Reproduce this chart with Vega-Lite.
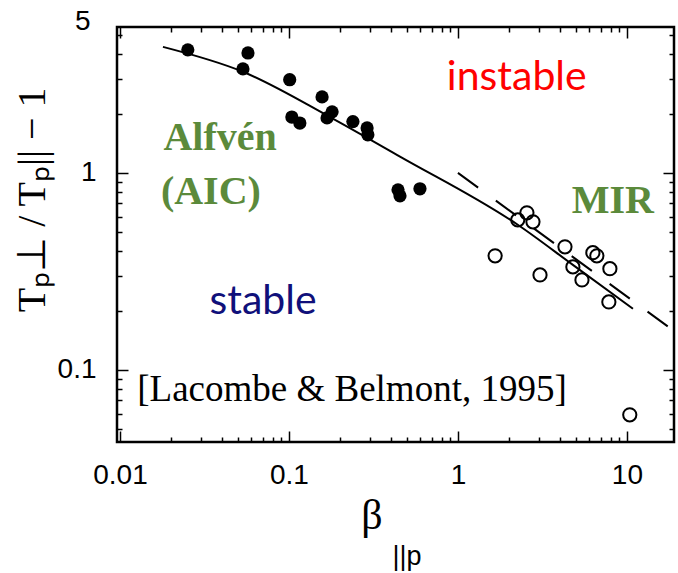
{
  "$schema": "https://vega.github.io/schema/vega-lite/v6.json",
  "width": 557,
  "height": 415,
  "autosize": {"type": "none"},
  "padding": {"left": 117, "top": 27, "right": 4, "bottom": 131},
  "background": "white",
  "config": {
    "view": {"stroke": "black", "strokeWidth": 2.5},
    "axis": {"domain": false, "grid": false, "labelFont": "Liberation Sans", "labelFontSize": 28, "labelColor": "black", "tickColor": "black", "tickWidth": 1.5}
  },
  "datasets": {
    "aic": [
      {"beta": 0.0252, "ratio": 4.21},
      {"beta": 0.0572, "ratio": 4.06},
      {"beta": 0.0534, "ratio": 3.37},
      {"beta": 0.101, "ratio": 2.97},
      {"beta": 0.104, "ratio": 1.92},
      {"beta": 0.116, "ratio": 1.79},
      {"beta": 0.157, "ratio": 2.43},
      {"beta": 0.18, "ratio": 2.04},
      {"beta": 0.168, "ratio": 1.9},
      {"beta": 0.239, "ratio": 1.82},
      {"beta": 0.29, "ratio": 1.69},
      {"beta": 0.293, "ratio": 1.56},
      {"beta": 0.442, "ratio": 0.82},
      {"beta": 0.454, "ratio": 0.764},
      {"beta": 0.596, "ratio": 0.83}
    ],
    "mir": [
      {"beta": 2.56, "ratio": 0.627},
      {"beta": 2.26, "ratio": 0.577},
      {"beta": 2.78, "ratio": 0.564},
      {"beta": 4.3, "ratio": 0.421},
      {"beta": 1.66, "ratio": 0.379},
      {"beta": 6.29, "ratio": 0.393},
      {"beta": 6.64, "ratio": 0.379},
      {"beta": 4.79, "ratio": 0.333},
      {"beta": 7.93, "ratio": 0.326},
      {"beta": 3.06, "ratio": 0.303},
      {"beta": 5.42, "ratio": 0.286},
      {"beta": 7.82, "ratio": 0.221},
      {"beta": 10.4, "ratio": 0.0591}
    ],
    "fit": [
      {"beta": 0.01796, "ratio": 4.36},
      {"beta": 0.0534, "ratio": 3.26},
      {"beta": 0.175, "ratio": 1.92},
      {"beta": 0.454, "ratio": 1.21},
      {"beta": 2.26, "ratio": 0.545},
      {"beta": 4.79, "ratio": 0.341},
      {"beta": 10.86, "ratio": 0.204}
    ],
    "dashed": [
      {"beta": 1.0, "ratio": 1.0},
      {"beta": 18.5, "ratio": 0.16}
    ]
  },
  "layer": [
    {
      "data": {"name": "aic"},
      "mark": {"type": "point", "filled": true, "color": "black", "opacity": 1, "size": 175},
      "encoding": {
        "x": {"field": "beta", "type": "quantitative", "scale": {"type": "log", "domain": [0.0096, 19], "nice": false},
          "axis": {"orient": "bottom", "title": null,
            "values": [0.01,0.02,0.03,0.04,0.05,0.06,0.07,0.08,0.09,0.1,0.2,0.3,0.4,0.5,0.6,0.7,0.8,0.9,1,2,3,4,5,6,7,8,9,10],
            "labelExpr": "datum.value==0.01?'0.01':datum.value==0.1?'0.1':datum.value==1?'1':datum.value==10?'10':''",
            "tickSize": {"condition": {"test": "datum.value==0.01||datum.value==0.1||datum.value==1||datum.value==10", "value": -11}, "value": -5},
            "labelPadding": 30, "labelFlush": false, "labelOverlap": false}},
        "y": {"field": "ratio", "type": "quantitative", "scale": {"type": "log", "domain": [0.043, 5.5], "nice": false},
          "axis": {"orient": "left", "title": null,
            "values": [0.05,0.06,0.07,0.08,0.09,0.1,0.2,0.3,0.4,0.5,0.6,0.7,0.8,0.9,1,2,3,4,5],
            "labelExpr": "datum.value==5?'5':datum.value==1?'1':datum.value==0.1?'0.1':''",
            "labelOffset": {"condition": {"test": "datum.value==5", "value": -14}, "value": 0},
            "tickSize": {"condition": {"test": "datum.value==0.1||datum.value==1", "value": -11}, "value": -5},
            "labelPadding": 32, "labelFlush": false, "labelOverlap": false}}
      }
    },
    {
      "data": {"name": "mir"},
      "mark": {"type": "point", "filled": false, "color": "black", "strokeWidth": 2, "opacity": 1, "size": 175},
      "encoding": {
        "x": {"field": "beta", "type": "quantitative", "scale": {"type": "log", "domain": [0.0096, 19], "nice": false},
          "axis": {"orient": "top", "title": null, "labels": false,
            "values": [0.01,0.02,0.03,0.04,0.05,0.06,0.07,0.08,0.09,0.1,0.2,0.3,0.4,0.5,0.6,0.7,0.8,0.9,1,2,3,4,5,6,7,8,9,10],
            "tickSize": {"condition": {"test": "datum.value==0.01||datum.value==0.1||datum.value==1||datum.value==10", "value": -11}, "value": -5}}},
        "y": {"field": "ratio", "type": "quantitative", "scale": {"type": "log", "domain": [0.043, 5.5], "nice": false},
          "axis": {"orient": "right", "title": null, "labels": false,
            "values": [0.05,0.06,0.07,0.08,0.09,0.1,0.2,0.3,0.4,0.5,0.6,0.7,0.8,0.9,1,2,3,4,5],
            "tickSize": {"condition": {"test": "datum.value==0.1||datum.value==1", "value": -11}, "value": -5}}}
      }
    },
    {
      "data": {"name": "fit"},
      "mark": {"type": "line", "color": "black", "strokeWidth": 2, "interpolate": "monotone"},
      "encoding": {
        "x": {"field": "beta", "type": "quantitative", "scale": {"type": "log", "domain": [0.0096, 19], "nice": false}, "axis": null},
        "y": {"field": "ratio", "type": "quantitative", "scale": {"type": "log", "domain": [0.043, 5.5], "nice": false}, "axis": null}
      }
    },
    {
      "data": {"name": "dashed"},
      "mark": {"type": "line", "color": "black", "strokeWidth": 2, "strokeDash": [25, 22], "clip": true},
      "encoding": {
        "x": {"field": "beta", "type": "quantitative", "scale": {"type": "log", "domain": [0.0096, 19], "nice": false}, "axis": null},
        "y": {"field": "ratio", "type": "quantitative", "scale": {"type": "log", "domain": [0.043, 5.5], "nice": false}, "axis": null}
      }
    },
    {
      "data": {"values": [{"beta": 2.23, "ratio": 3.04, "label": "instable"}]},
      "mark": {"type": "text", "font": "Lato", "fontSize": 41, "color": "#ff0000", "align": "center", "baseline": "middle"},
      "encoding": {
        "x": {"field": "beta", "type": "quantitative", "scale": {"type": "log", "domain": [0.0096, 19], "nice": false}, "axis": null},
        "y": {"field": "ratio", "type": "quantitative", "scale": {"type": "log", "domain": [0.043, 5.5], "nice": false}, "axis": null},
        "text": {"field": "label"}
      }
    },
    {
      "data": {"values": [{"beta": 0.0702, "ratio": 0.221, "label": "stable"}]},
      "mark": {"type": "text", "font": "Lato", "fontSize": 41, "color": "#10107a", "align": "center", "baseline": "middle"},
      "encoding": {
        "x": {"field": "beta", "type": "quantitative", "scale": {"type": "log", "domain": [0.0096, 19], "nice": false}, "axis": null},
        "y": {"field": "ratio", "type": "quantitative", "scale": {"type": "log", "domain": [0.043, 5.5], "nice": false}, "axis": null},
        "text": {"field": "label"}
      }
    },
    {
      "data": {"values": [
        {"beta": 0.0391, "ratio": 1.506, "label": "Alfvén"},
        {"beta": 0.0345, "ratio": 0.801, "label": "(AIC)"},
        {"beta": 8.26, "ratio": 0.721, "label": "MIR"}
      ]},
      "mark": {"type": "text", "font": "Liberation Serif", "fontSize": 40, "fontWeight": "bold", "color": "#5b8a3b", "align": "center", "baseline": "middle"},
      "encoding": {
        "x": {"field": "beta", "type": "quantitative", "scale": {"type": "log", "domain": [0.0096, 19], "nice": false}, "axis": null},
        "y": {"field": "ratio", "type": "quantitative", "scale": {"type": "log", "domain": [0.043, 5.5], "nice": false}, "axis": null},
        "text": {"field": "label"}
      }
    },
    {
      "data": {"values": [{"beta": 0.236, "ratio": 0.0791, "label": "[Lacombe & Belmont, 1995]"}]},
      "mark": {"type": "text", "font": "Liberation Serif", "fontSize": 37, "color": "black", "align": "center", "baseline": "middle"},
      "encoding": {
        "x": {"field": "beta", "type": "quantitative", "scale": {"type": "log", "domain": [0.0096, 19], "nice": false}, "axis": null},
        "y": {"field": "ratio", "type": "quantitative", "scale": {"type": "log", "domain": [0.043, 5.5], "nice": false}, "axis": null},
        "text": {"field": "label"}
      }
    },
    {
      "data": {"values": [{"beta": 0.31, "ratio": 0.01815, "label": "β"}]},
      "mark": {"type": "text", "font": "Liberation Serif", "fontSize": 42, "color": "black", "align": "center", "baseline": "middle"},
      "encoding": {
        "x": {"field": "beta", "type": "quantitative", "scale": {"type": "log", "domain": [0.0096, 19], "nice": false}, "axis": null},
        "y": {"field": "ratio", "type": "quantitative", "scale": {"type": "log", "domain": [0.043, 5.5], "nice": false}, "axis": null},
        "text": {"field": "label"}
      }
    },
    {
      "data": {"values": [{"beta": 0.499, "ratio": 0.0112, "label": "||p"}]},
      "mark": {"type": "text", "font": "Liberation Sans", "fontSize": 27, "color": "black", "align": "center", "baseline": "middle"},
      "encoding": {
        "x": {"field": "beta", "type": "quantitative", "scale": {"type": "log", "domain": [0.0096, 19], "nice": false}, "axis": null},
        "y": {"field": "ratio", "type": "quantitative", "scale": {"type": "log", "domain": [0.043, 5.5], "nice": false}, "axis": null},
        "text": {"field": "label"}
      }
    },
    {
      "data": {"values": [{"beta": 0.00306, "ratio": 0.729, "label": "Tₚ⊥  / Tₚ||  −  1"}]},
      "mark": {"type": "text", "font": "Liberation Serif", "fontSize": 40, "color": "black", "align": "center", "baseline": "middle", "angle": 270},
      "encoding": {
        "x": {"field": "beta", "type": "quantitative", "scale": {"type": "log", "domain": [0.0096, 19], "nice": false}, "axis": null},
        "y": {"field": "ratio", "type": "quantitative", "scale": {"type": "log", "domain": [0.043, 5.5], "nice": false}, "axis": null},
        "text": {"field": "label"}
      }
    }
  ],
  "resolve": {"axis": {"x": "independent", "y": "independent"}}
}
